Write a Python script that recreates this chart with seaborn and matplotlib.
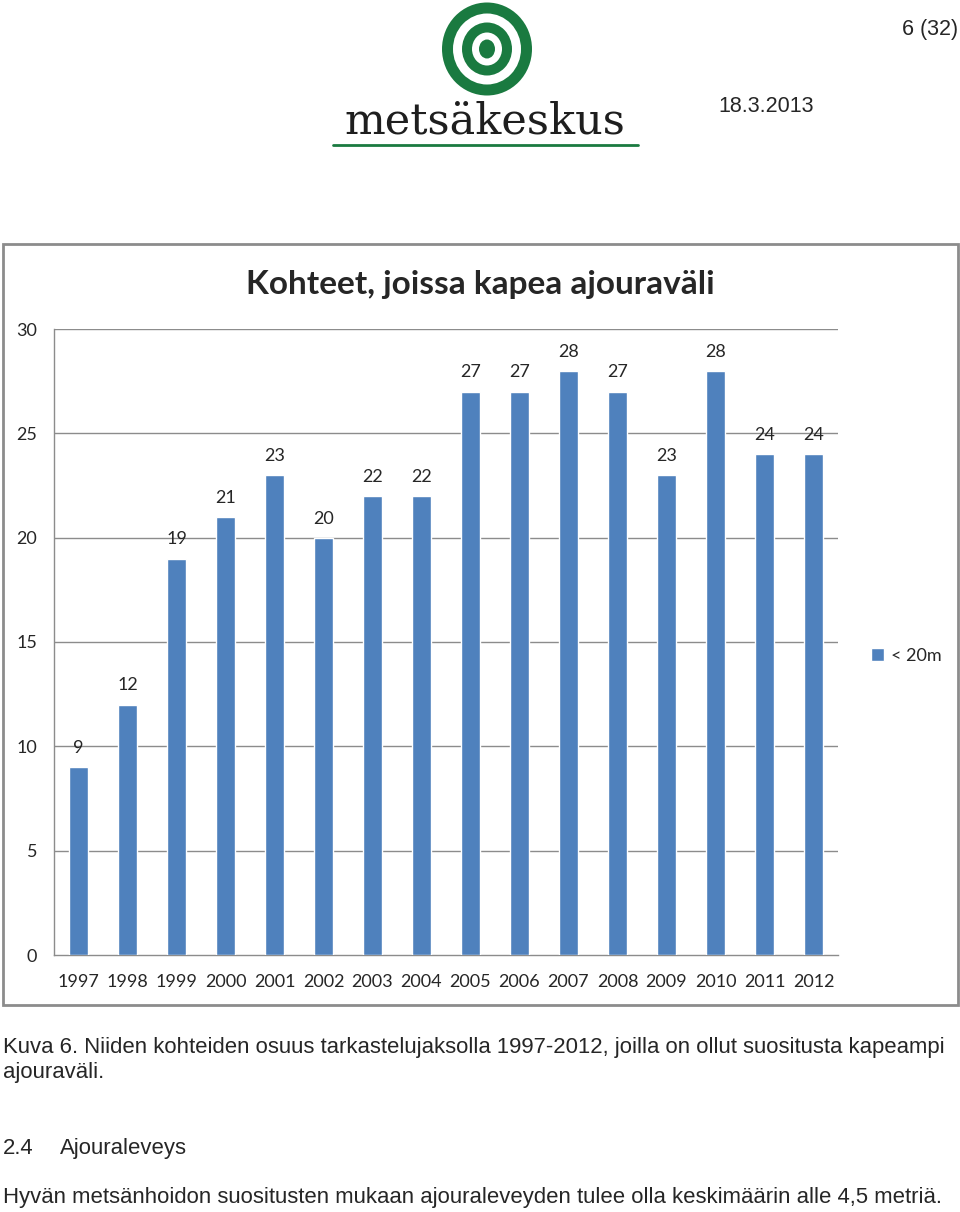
import matplotlib
matplotlib.use("Agg")
import matplotlib.pyplot as plt
import seaborn as sns
import pandas as pd
from matplotlib.patches import Rectangle, Ellipse
from matplotlib.lines import Line2D

years = ["1997", "1998", "1999", "2000", "2001", "2002", "2003", "2004",
         "2005", "2006", "2007", "2008", "2009", "2010", "2011", "2012"]
values = [9, 12, 19, 21, 23, 20, 22, 22, 27, 27, 28, 27, 23, 28, 24, 24]
series_name = "< 20m"
yticks = [0, 5, 10, 15, 20, 25, 30]

title = "Kohteet, joissa kapea ajouraväli"
caption1 = "Kuva 6. Niiden kohteiden osuus tarkastelujaksolla 1997-2012, joilla on ollut suositusta kapeampi"
caption2 = "ajouraväli."
heading_num = "2.4"
heading_txt = "Ajouraleveys"
body = "Hyvän metsänhoidon suositusten mukaan ajouraleveyden tulee olla keskimäärin alle 4,5 metriä."

sns.set_style("white")
plt.rcParams['font.family'] = ['Lato', 'DejaVu Sans']

W, H = 960, 1212
fig = plt.figure(figsize=(W / 100, H / 100), dpi=100)
fig.patch.set_facecolor("white")


def fx(x):
    return x / W


def fy(y):
    return 1 - y / H


# chart frame
fig.patches.append(Rectangle((fx(3), fy(1005)), fx(958) - fx(3), fy(244) - fy(1005),
                             transform=fig.transFigure, fill=False,
                             edgecolor="#8c8c8c", lw=2, zorder=0))

ax = fig.add_axes([fx(54), fy(955), fx(838) - fx(54), fy(329) - fy(955)])
df = pd.DataFrame({"year": years, "value": values})
sns.barplot(data=df, x="year", y="value", color="#4F81BD", saturation=1,
            width=0.4, ax=ax, label=series_name, zorder=3)
ax.set_ylim(0, 30)
ax.set_xlim(-0.5, len(years) - 0.5)
ax.set_yticks(yticks)
ax.set_xlabel("")
ax.set_ylabel("")
for y in yticks[1:]:
    ax.axhline(y, color="#8c8c8c", lw=1, zorder=1)
for s in ["top", "right"]:
    ax.spines[s].set_visible(False)
for s in ["left", "bottom"]:
    ax.spines[s].set_color("#8c8c8c")
    ax.spines[s].set_linewidth(1)
ax.tick_params(axis="y", length=6, width=1, color="#8c8c8c", labelsize=13, pad=6)
ax.tick_params(axis="x", which="major", length=0, labelsize=13, pad=14)
ax.set_xticks([i - 0.5 for i in range(len(years) + 1)], minor=True)
ax.tick_params(axis="x", which="minor", length=6, width=1, color="#8c8c8c")
ax.bar_label(ax.containers[0], padding=8, fontsize=13)

ax.legend(loc="center left", bbox_to_anchor=(fx(855), fy(656)),
          bbox_transform=fig.transFigure, frameon=False, fontsize=13,
          handlelength=0.7, handleheight=0.7, handletextpad=0.4)

fig.text(fx(480), fy(284), title, ha="center", va="center",
         fontsize=24, fontweight="bold")

# header
cx, cy = 487, 49
for r, c in [(45, "#1a7a40"), (34, "white"), (25, "#1a7a40"), (15, "white"), (8, "#1a7a40")]:
    fig.patches.append(Ellipse((fx(cx), fy(cy)), 2 * r / W, 2 * (r + 1.5) / H,
                               transform=fig.transFigure, facecolor=c,
                               edgecolor="none", zorder=2))
fig.text(fx(485), fy(121), "metsäkeskus", ha="center", va="center",
         fontsize=31, family=["DejaVu Serif"], color="#1e1e1e")
fig.lines.append(Line2D([fx(333), fx(638)], [fy(145), fy(145)],
                        transform=fig.transFigure, color="#1a7a40", lw=2))

sans = ["Liberation Sans", "DejaVu Sans"]
fig.text(fx(958), fy(30), "6 (32)", ha="right", va="center", fontsize=15.5, family=sans)
fig.text(fx(718), fy(107), "18.3.2013", ha="left", va="center", fontsize=15.5, family=sans)

fs = 15.9
fig.text(fx(3), fy(1053), caption1, ha="left", va="baseline", fontsize=fs, family=sans)
fig.text(fx(3), fy(1078), caption2, ha="left", va="baseline", fontsize=fs, family=sans)
fig.text(fx(3), fy(1154), heading_num, ha="left", va="baseline", fontsize=fs, family=sans)
fig.text(fx(60), fy(1154), heading_txt, ha="left", va="baseline", fontsize=fs, family=sans)
fig.text(fx(3), fy(1203), body, ha="left", va="baseline", fontsize=fs, family=sans)

fig.savefig("out.png", dpi=100)
